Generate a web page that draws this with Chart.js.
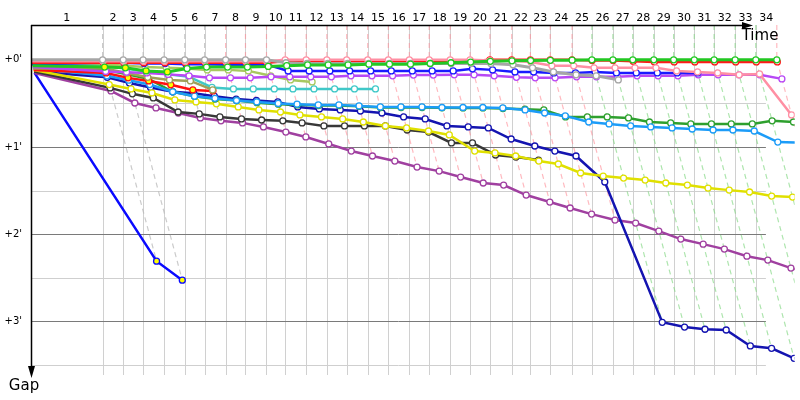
<!DOCTYPE html>
<html>
<head>
<meta charset="utf-8">
<script src="https://cdn.jsdelivr.net/npm/chart.js@4.4.0/dist/chart.umd.min.js"></script>
<style>
  html, body { margin: 0; padding: 0; background: #fff; }
</style>
</head>
<body>
<canvas id="gapChart" width="800" height="400"></canvas>
<script>
// leader's race time (s) at the end of each lap
const lapEnd = [184, 237, 288, 342, 395, 446, 500, 551, 605, 653, 707, 760, 811, 865, 918, 972, 1023,
  1077, 1128, 1179, 1235, 1283, 1334, 1390, 1441, 1495, 1546, 1600, 1651, 1704, 1755, 1809, 1862, 1916];
const lapLabels = lapEnd.map((t, i) => String(i + 1));
const raceEnd = 1888;
const gapTicks = [0, 30, 60, 90, 120, 150, 180, 210];

// gap to leader (s); index 0 = grid, then lap 1, 2, ...
const gapGreen = [4, 5, 5.5, 7.6, 8.3, 6, 5, 5, 5, 4.5, 4, 3.5, 3.5, 3.5, 3, 3, 3, 2.5, 2, 1.5, 1,
  0.7, 0.5, 0.3, 0.2, 0, 0, 0, 0, 0, 0, 0, 0, 0, 0];
const gapRed = [2, 2, 2, 2, 2, 2, 2, 2, 2, 2, 1, 1, 1, 1, 1, 1, 1, 1, 1, 1, 0,
  0, 0, 0, 0, 0.5, 0.5, 1, 1.4, 1.4, 1.4, 1.4, 1.4, 1.4, 1.4];
const gapPink = [1, 1, 1, 1, 1, 1, 1, 1, 1, 1, 0, 0, 0, 0, 0, 0, 0, 0, 0, 0, 0.5,
  0.7, 1.5, 4.1, 4.1, 5.5, 5.5, 5.5, 5.5, 7.6, 8.3, 9, 10.3, 9.7, 37.9];
const gapGrey = [0, 0, 0, 0, 0, 0, 0, 0, 0, 0, 2, 2.5, 2.5, 2.5, 2.5, 2.5, 2.5, 2.5, 2.5, 2.5, 2.5,
  3.4, 5.5, 8.3, 10.3, 11, 13.8];
const gapBlue = [3, 2, 2, 2.5, 2.5, 3, 3, 3.4, 3.4, 3.4, 7.6, 7.6, 7.6, 7.6, 7.6, 7.6, 7.6, 7.6, 7.6, 6.2, 6.9,
  8.3, 8.3, 9, 9, 8.3, 9, 9, 9, 9, 9];
const gapViolet = [5, 8, 8.5, 9, 10, 11, 12.4, 12.4, 12.4, 11.7, 11.7, 11.7, 11.7, 11, 11, 11, 10.5, 10.5, 10.3, 10.3, 11,
  12, 12.4, 12.4, 11.7, 11.7, 11.7, 11, 11, 11, 10.3, 10.3, 10.3, 10.3, 13.1];
const gapOlive = [2, 3, 4, 5, 5.5, 6, 6.9, 6.9, 7.6, 11, 13.8, 15.2];
const gapKhaki = [6, 6, 9, 12, 13.8, 14.5, 20.7];
const gapCyan = [3, 4, 6, 8, 10, 11.7, 19, 20, 20, 20, 20, 20, 20, 20, 20];
const gapRedPit = [7, 9, 12.4, 14.5, 17.2, 20.7, 21.4];
const gapNavy = [8, 12, 16, 19, 22, 23, 25, 27, 28, 29, 32.4, 33.8, 34.5, 35.2, 36.6, 39.3, 40.7, 45.5, 46.2, 46.9, 54.5,
  59.3, 62.8, 66.2, 84.1, 180.7, 184, 185.5, 186, 197, 198.6, 205.5, 210, 214, 218];
const gapSky = [6, 11, 14, 17, 22, 25, 26.5, 28, 29, 30, 30.5, 31, 31, 31.7, 32.4, 32.4, 32.4, 32.8, 32.8, 32.8, 33.1,
  34.5, 36.6, 38.6, 42.8, 44.1, 45.5, 46.2, 46.9, 47.6, 48.3, 48.3, 49, 56.6, 57];
const gapForest = [5, 7, 10, 13, 22, 25, 27, 28, 29.5, 30.5, 31, 31.5, 31.5, 32, 32.8, 32.8, 32.8, 33, 33.1, 33.1, 33.5,
  34, 34.5, 39.3, 39.3, 39.3, 40, 42.8, 43.4, 44.1, 44.1, 44.1, 44.1, 42, 42.8];
const gapYellow = [7, 17, 20, 22.8, 27.6, 29, 30.3, 32.4, 34.5, 35.9, 37.9, 39.3, 40.7, 42.8, 45.5, 46.9, 49, 51.7, 62.8, 64.1, 66.2,
  69.7, 71.7, 77.9, 80, 81.4, 82.8, 84.8, 86.2, 88.3, 89.7, 91, 93.8, 94.5, 96];
const gapBlack = [8, 19.3, 23.4, 26.2, 35.9, 37.2, 39.3, 40.7, 41.4, 42, 43.4, 45.5, 45.5, 45.5, 45.5, 48.3, 49.7, 57.2, 57.2, 65.5, 66.9, 69];
const gapPurple = [9, 21.4, 29.7, 33.1, 36.6, 40, 42, 43.4, 46.2, 49.7, 53.1, 57.9, 62.8, 66.2, 69.7, 73.8, 76.6, 80.7, 84.8, 86.2, 93.1,
  97.9, 102, 106.2, 110.3, 112.4, 117.9, 123.4, 126.9, 130.3, 135.2, 137.9, 143.4, 147, 151];
const gapRetired = [9, 138.6, 151.7];

// laps drawn with a yellow marker
const yellowGreen = [1, 2, 3, 4];
const yellowRedPit = [1, 2, 3, 4, 5, 6];
const yellowRetired = [1, 2];

const FONT = '"DejaVu Sans", Verdana, sans-serif';

function lapStart(i) {
  return i ? lapEnd[i - 1] : 0;
}

function carDataset(gaps, color, width, yellowLaps) {
  const pts = [];
  gaps.forEach((g, i) => {
    if (g !== null) pts.push({ x: lapStart(i) + g, y: g, lap: i });
  });
  return {
    data: pts,
    showLine: true,
    borderColor: color,
    borderWidth: width,
    pointRadius: pts.map(p => (p.lap ? 3 : 0)),
    pointBorderColor: color,
    pointBorderWidth: 1.3,
    pointBackgroundColor: pts.map(p => ((yellowLaps || []).includes(p.lap) ? '#ffff00' : '#ffffff')),
    order: 1
  };
}

// first in the list is drawn on top
const cars = [
  carDataset(gapGreen, '#22c822', 3, yellowGreen),
  carDataset(gapGrey, '#a6a6a6', 3),
  carDataset(gapPink, '#ff8fa3', 2.5),
  carDataset(gapRed, '#ff1a1a', 2.5),
  carDataset(gapBlue, '#1a1aff', 2.5),
  carDataset(gapViolet, '#b848f5', 2.5),
  carDataset(gapOlive, '#a8c860', 2.5),
  carDataset(gapKhaki, '#a0a058', 2.5),
  carDataset(gapCyan, '#40c8c8', 2.5),
  carDataset(gapRedPit, '#ff1010', 2.5, yellowRedPit),
  carDataset(gapSky, '#1c9cf8', 2.5),
  carDataset(gapForest, '#2ea02e', 2.5),
  carDataset(gapYellow, '#e0e000', 2.5),
  carDataset(gapBlack, '#383838', 2.5),
  carDataset(gapNavy, '#1414b0', 2.5),
  carDataset(gapPurple, '#a040a0', 2.5),
  carDataset(gapRetired, '#0a0aff', 2.5, yellowRetired)
];

const allGaps = [gapGreen, gapRed, gapPink, gapGrey, gapBlue, gapViolet, gapOlive, gapKhaki, gapCyan,
  gapRedPit, gapSky, gapForest, gapYellow, gapBlack, gapNavy, gapPurple, gapRetired];

const GAP_MIN = -24;
const GAP_MAX = 217;

function lapLineColour(lap) {
  if (lap <= 6) return 'rgba(185,185,185,0.75)';
  if (lap <= 24 || lap >= 34) return 'rgba(255,140,150,0.6)';
  return 'rgba(130,215,130,0.65)';
}

// one dashed line per lap, through every car's crossing of that lap
const lapLines = lapEnd.map((t, i) => {
  const lap = i + 1;
  const last = Math.max(...allGaps.map(g => (g[lap] == null ? -Infinity : g[lap])));
  return {
    data: [{ x: t, y: GAP_MIN }, { x: t, y: 0 }, { x: t + last, y: last }],
    showLine: true,
    borderColor: lapLineColour(lap),
    borderWidth: 1.2,
    borderDash: [5, 4],
    pointRadius: 0,
    order: 2
  };
});

const frame = {
  id: 'frame',
  beforeDatasetsDraw(chart) {
    const { ctx, chartArea: a, scales: { x, y } } = chart;
    ctx.save();
    ctx.lineWidth = 1;
    ctx.strokeStyle = '#d0d0d0';
    lapEnd.slice(0, 33).forEach(t => {
      const px = Math.round(x.getPixelForValue(t)) + 0.5;
      ctx.beginPath();
      ctx.moveTo(px, a.top);
      ctx.lineTo(px, a.bottom);
      ctx.stroke();
    });
    const right = x.getPixelForValue(raceEnd);
    gapTicks.forEach(g => {
      const py = Math.round(y.getPixelForValue(g)) + 0.5;
      ctx.strokeStyle = g % 60 ? '#cfcfcf' : '#7a7a7a';
      ctx.beginPath();
      ctx.moveTo(a.left, py);
      ctx.lineTo(right, py);
      ctx.stroke();
    });
    ctx.restore();
  },
  afterDatasetsDraw(chart) {
    const { ctx, chartArea: a, scales: { x, y } } = chart;
    ctx.save();
    ctx.strokeStyle = '#000';
    ctx.fillStyle = '#000';
    ctx.lineWidth = 1.5;
    // time axis (top)
    const tipX = 753;
    ctx.beginPath();
    ctx.moveTo(a.left, a.top + 0.5);
    ctx.lineTo(tipX - 8, a.top + 0.5);
    ctx.stroke();
    ctx.beginPath();
    ctx.moveTo(tipX, a.top + 0.5);
    ctx.lineTo(tipX - 11, a.top - 3);
    ctx.lineTo(tipX - 11, a.top + 4);
    ctx.closePath();
    ctx.fill();
    // gap axis (left)
    const tipY = 378;
    ctx.beginPath();
    ctx.moveTo(a.left + 0.5, a.top);
    ctx.lineTo(a.left + 0.5, tipY - 8);
    ctx.stroke();
    ctx.beginPath();
    ctx.moveTo(a.left + 0.5, tipY);
    ctx.lineTo(a.left - 3, tipY - 12);
    ctx.lineTo(a.left + 4, tipY - 12);
    ctx.closePath();
    ctx.fill();

    // lap numbers, centred in each lap
    ctx.font = '11px ' + FONT;
    ctx.textAlign = 'center';
    ctx.textBaseline = 'middle';
    lapLabels.forEach((lbl, i) => {
      const cx = (x.getPixelForValue(lapStart(i)) + x.getPixelForValue(lapEnd[i])) / 2;
      ctx.fillText(lbl, cx, 18);
    });

    // gap labels
    ctx.font = '10px ' + FONT;
    ctx.textAlign = 'right';
    gapTicks.filter(g => g % 60 === 0 && g <= 180).forEach(g => {
      ctx.fillText('+' + g / 60 + "'", 22, y.getPixelForValue(g));
    });

    ctx.font = '15px ' + FONT;
    ctx.textAlign = 'center';
    ctx.fillText('Time', 760, 36);
    ctx.fillText('Gap', 24, 386);
    ctx.restore();
  }
};

new Chart(document.getElementById('gapChart'), {
  type: 'scatter',
  data: { datasets: cars.concat(lapLines) },
  options: {
    responsive: false,
    devicePixelRatio: 1,
    animation: false,
    events: [],
    layout: { padding: { left: 31, top: 25, right: 0, bottom: 25 } },
    plugins: { legend: { display: false }, tooltip: { enabled: false } },
    elements: { line: { tension: 0 } },
    scales: {
      x: { type: 'linear', display: false, min: 0, max: 1962 },
      y: { type: 'linear', display: false, reverse: true, min: GAP_MIN, max: GAP_MAX }
    }
  },
  plugins: [frame]
});
</script>
</body>
</html>
